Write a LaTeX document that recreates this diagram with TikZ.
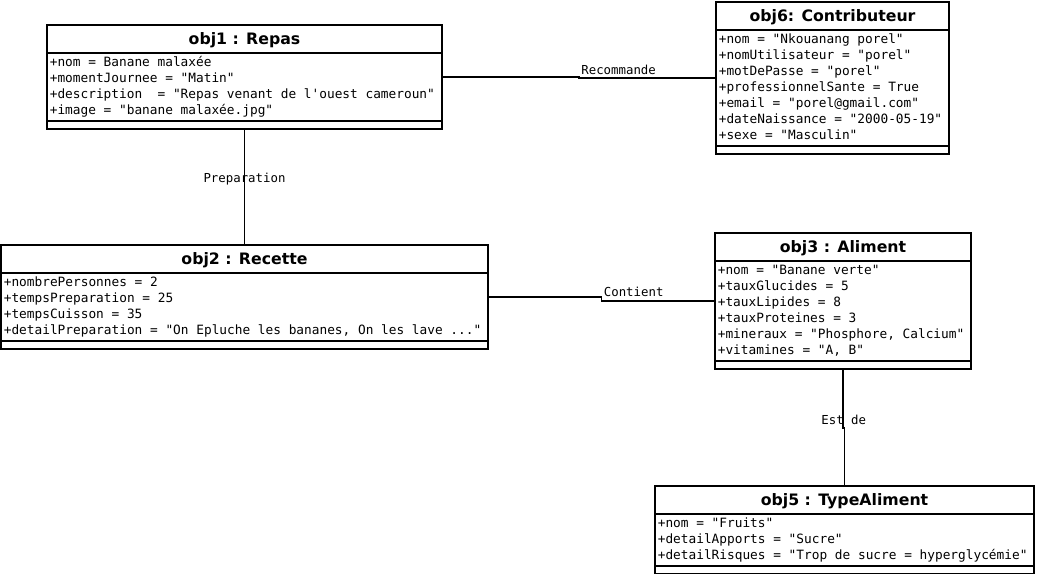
\documentclass[tikz,border=0pt]{standalone}
\usepackage{fontspec}
\setmainfont{DejaVu Sans}
\setmonofont{DejaVu Sans Mono}
\usetikzlibrary{shapes.multipart,positioning,calc}
\tikzset{
  objbox/.style={draw, line width=1.5pt, anchor=north,
    rectangle split, rectangle split parts=3,
    rectangle split part align={center,left,left},
    inner xsep=2pt, inner ysep=0.6pt},
  assoc/.style={line width=1.4pt},
  assoclbl/.style={font=\fontsize{8.8}{10}\selectfont\ttfamily, inner sep=1pt},
}
\newcommand{\objtitle}[1]{\rule[-4.55pt]{0pt}{17.3pt}{\fontsize{11.2}{13}\selectfont\bfseries #1}}
\newcommand{\objattrs}[1]{{\fontsize{9.1}{11.38}\selectfont\ttfamily\begin{tabular}{@{}l@{}}#1\end{tabular}}}
\newcommand{\objfoot}{\rule{0pt}{3pt}}

\begin{document}
\begin{tikzpicture}
  \useasboundingbox (0,0) rectangle (25.925,-14.35);

  % objects
  \node[objbox, minimum width=9.875cm] (obj1) at (6.1125,-0.6)
    {\objtitle{obj1 : Repas}\nodepart{two}\objattrs{+nom = Banane malaxée\\
      +momentJournee = "Matin"\\
      +description~ = "Repas venant de l'ouest cameroun"\\
      +image = "banane malaxée.jpg"}\nodepart{three}\objfoot};
  \node[objbox, minimum width=5.825cm] (obj6) at (20.8125,-0.025)
    {\objtitle{obj6: Contributeur}\nodepart{two}\objattrs{+nom = "Nkouanang porel"\\
      +nomUtilisateur = "porel"\\
      +motDePasse = "porel"\\
      +professionnelSante = True\\
      +email = "porel@gmail.com"\\
      +dateNaissance = "2000-05-19"\\
      +sexe = "Masculin"}\nodepart{three}\objfoot};
  \node[objbox, minimum width=12.175cm] (obj2) at (6.1125,-6.1)
    {\objtitle{obj2 : Recette}\nodepart{two}\objattrs{+nombrePersonnes = 2\\
      +tempsPreparation = 25\\
      +tempsCuisson = 35\\
      +detailPreparation = "On Epluche les bananes, On les lave ..."}\nodepart{three}\objfoot};
  \node[objbox, minimum width=6.4cm] (obj3) at (21.075,-5.8)
    {\objtitle{obj3 : Aliment}\nodepart{two}\objattrs{+nom = "Banane verte"\\
      +tauxGlucides = 5\\
      +tauxLipides = 8\\
      +tauxProteines = 3\\
      +mineraux = "Phosphore, Calcium"\\
      +vitamines = "A, B"}\nodepart{three}\objfoot};
  \node[objbox, minimum width=9.475cm] (obj5) at (21.1125,-12.125)
    {\objtitle{obj5 : TypeAliment}\nodepart{two}\objattrs{+nom = "Fruits"\\
      +detailApports = "Sucre"\\
      +detailRisques = "Trop de sucre = hyperglycémie"}\nodepart{three}\objfoot};

  % links
  \draw[assoc] (obj1.east) -| ($(obj1.east)!.5!(obj6.west)$)
    node[assoclbl, above right] {Recommande} |- (obj6.west);
  \draw[assoc] (obj1.south) -- node[assoclbl, above] {Preparation} (obj2.north);
  \draw[assoc] (obj2.east) -| ($(obj2.east)!.5!(obj3.west)$)
    node[assoclbl, above right] {Contient} |- (obj3.west);
  \draw[assoc] (obj3.south) |- ($(obj3.south)!.5!(obj5.north)$)
    node[assoclbl, above] {Est de} -| (obj5.north);
\end{tikzpicture}
\end{document}
